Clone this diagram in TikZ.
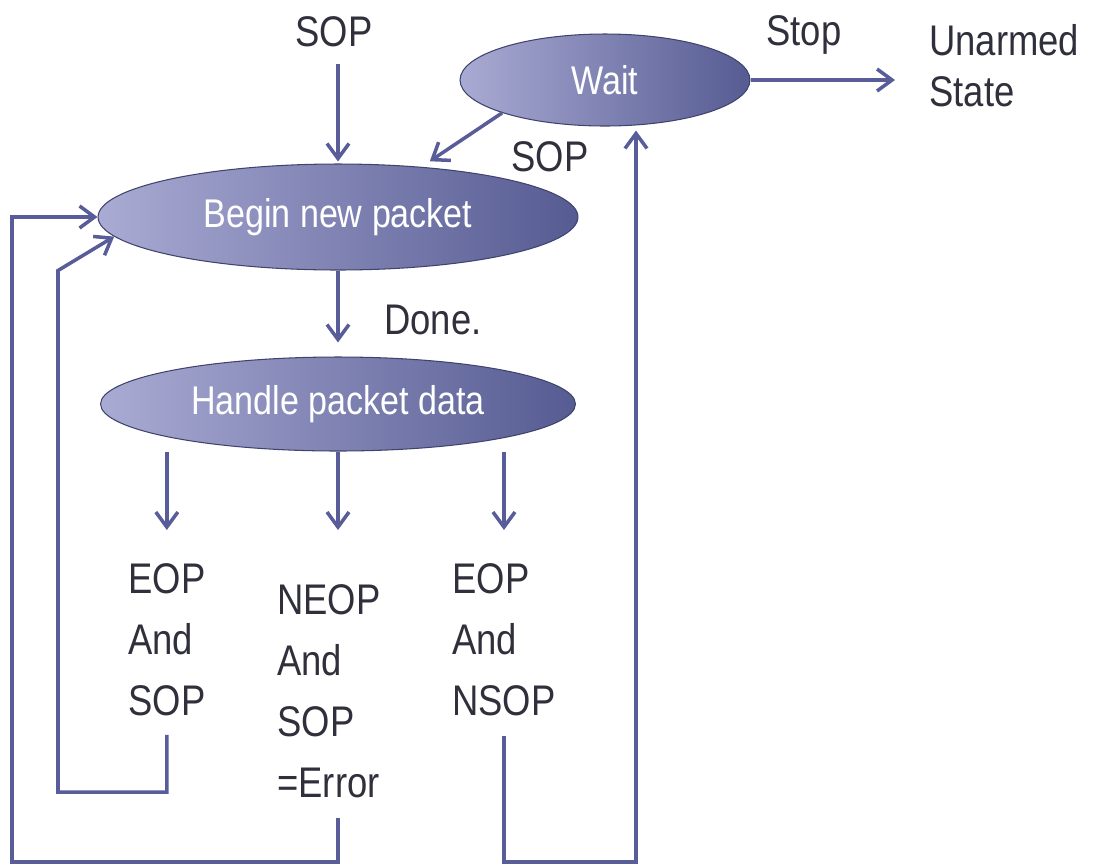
\documentclass[tikz,border=0pt]{standalone}
\usepackage{fontspec}
\setmainfont{Liberation Sans}[FakeStretch=0.85]
\usepackage{xcolor}
\usetikzlibrary{shapes.geometric,arrows.meta,positioning,calc}

\definecolor{lineblue}{HTML}{585C98}
\definecolor{shadelight}{HTML}{A9ABD3}
\definecolor{shadedark}{HTML}{565B92}
\definecolor{textgray}{HTML}{30303C}

\begin{document}
\begin{tikzpicture}[x=0.02cm, y=-0.02cm,
    state/.style={ellipse, draw=shadedark!75!black, line width=0.6pt, left color=shadelight, right color=shadedark, text=white, inner sep=0pt, font=\fontsize{22.8pt}{26pt}\selectfont},
    lbl/.style={text=textgray, inner sep=0pt, align=left, font=\fontsize{24.4pt}{34.7pt}\selectfont},
    arr/.style={draw=lineblue, line width=2pt, -{Straight Barb[length=0.3cm, width=0.44cm]}}]
    \useasboundingbox (0,0) rectangle (1096,867);

    % states
    \node[state, minimum width=5.8cm, minimum height=1.84cm] (W) at (605,80) {Wait};
    \node[state, minimum width=9.6cm, minimum height=2.12cm] (BNP) at (338,217) {Begin new packet};
    \node[state, minimum width=9.5cm, minimum height=1.88cm] (HPD) at (338,404) {Handle packet data};

    % labels
    \node[lbl, anchor=base] (SOPin) at (334,46) {SOP};
    \node[lbl, anchor=base] (STP) at (804,45) {Stop};
    \node[lbl, anchor=north west, font=\fontsize{24.4pt}{29pt}\selectfont] (U) at (929,24) {Unarmed\\State};
    \node[lbl, anchor=base] (SOPw) at (550,171) {SOP};
    \node[lbl, anchor=base] (DN) at (433,334) {Done.};
    \node[lbl, anchor=north west] (EAS) at (128,563) {EOP\\And\\SOP};
    \node[lbl, anchor=north west] (NAS) at (277,584) {NEOP\\And\\SOP\\=Error};
    \node[lbl, anchor=north west] (EAN) at (452,563) {EOP\\And\\NSOP};

    % loop corners
    \coordinate (C1) at (58,792);
    \coordinate (C2) at (12,862);
    \coordinate (C3) at (636,862);

    \draw[arr, shorten <=0.34cm, shorten >=0.04cm] (SOPin.south -| BNP.north) -- (BNP.north);
    \draw[arr, shorten >=0.2cm] (W.south west) -- (BNP.31);
    \draw[arr, shorten >=0.68cm] (W.east) -- (W.east -| U.west);
    \draw[arr, shorten >=0.28cm] (BNP.south) -- (HPD.north);
    \draw[arr, shorten >=0.66cm] (HPD.south -| EAS.north) -- (EAS.north);
    \draw[arr, shorten >=1.08cm] (HPD.south) -- (HPD.south |- NAS.north);
    \draw[arr, shorten >=0.66cm] (HPD.south -| EAN.north) -- (EAN.north);

    % back to the states
    \draw[arr, shorten <=0.38cm] (EAS.south) |- (C1) -- (C1 |- BNP.south) -- (BNP.185);
    \draw[arr, shorten <=0.4cm] (HPD.south |- NAS.south) -- (HPD.south |- C2) -- (C2) -- (C2 |- BNP.west) -- (BNP.west);
    \draw[arr, shorten <=0.4cm, shorten >=0.08cm] (EAN.south) |- (C3) -- (C3 |- W.south);
\end{tikzpicture}
\end{document}
